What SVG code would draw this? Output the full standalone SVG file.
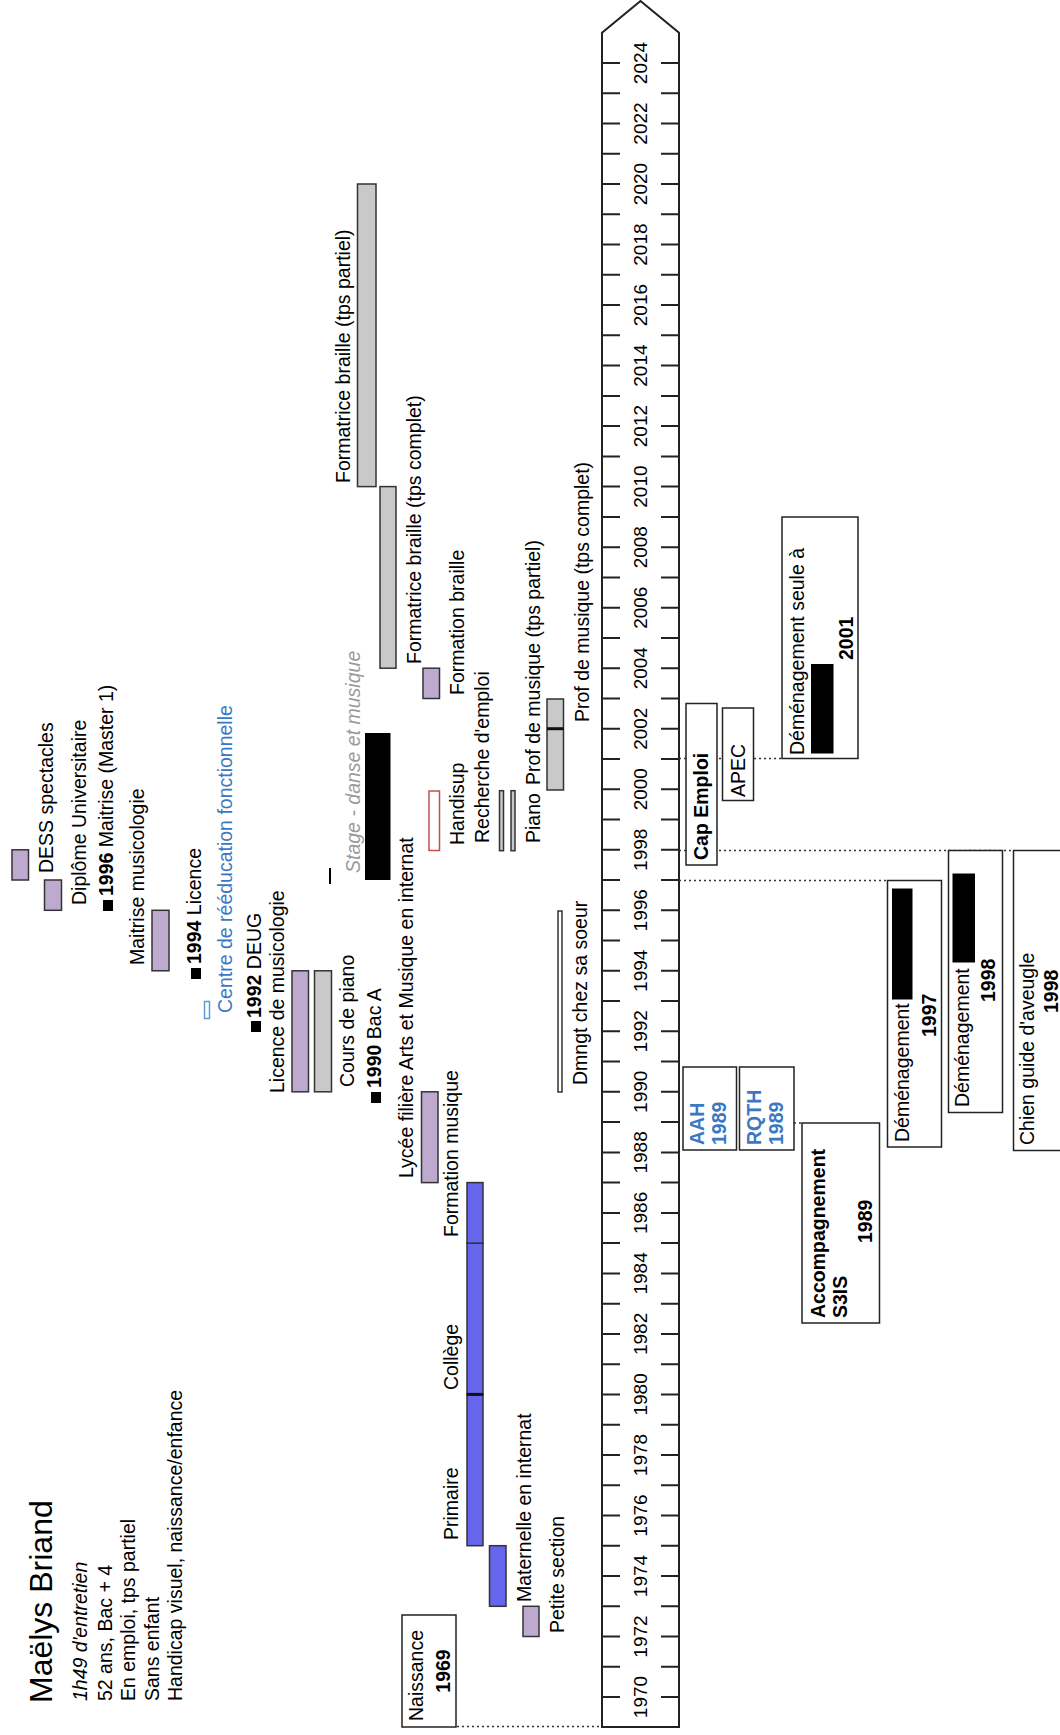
<svg xmlns="http://www.w3.org/2000/svg" width="1060" height="1735" viewBox="0 0 1060 1735">
<style>
text{font-family:"Liberation Sans",Arial,sans-serif;font-size:19.5px;fill:#000}
.b{font-weight:bold}
.i{font-style:italic}
.blue{fill:#3b78c4}
.yr{font-size:19px;text-anchor:middle}
.mid{text-anchor:middle}
.box{fill:#fff;stroke:#222;stroke-width:1.5}
.pu{fill:#bfaacf;stroke:#333;stroke-width:1.5}
.gr{fill:#c9c9c9;stroke:#333;stroke-width:1.5}
.bl{fill:#6565ee;stroke:#333;stroke-width:1.5}
.blk{fill:#000}
.dot{stroke:#333;stroke-width:1.5;stroke-dasharray:2 3;fill:none}
.div{stroke:#111;stroke-width:3}
</style>
<rect width="1060" height="1735" fill="#fff"/>
<g id="header">
<text transform="translate(52,1703) rotate(-90)" style="font-size:32px">Maëlys Briand</text>
<text class="i" transform="translate(87,1701) rotate(-90)">1h49 d'entretien</text>
<text transform="translate(112,1701) rotate(-90)">52 ans, Bac + 4</text>
<text transform="translate(135,1701) rotate(-90)">En emploi, tps partiel</text>
<text transform="translate(159,1701) rotate(-90)">Sans enfant</text>
<text transform="translate(182,1701) rotate(-90)">Handicap visuel, naissance/enfance</text>
</g>
<g id="axis">
<path d="M602,1727 V32.7 L640.5,1 L679,32.7 V1727 Z" fill="#fff" stroke="#222" stroke-width="2"/>
<path stroke="#222" stroke-width="2" d="M602,1697h18M661,1697h18M602,1666.8h18M661,1666.8h18M602,1636.5h18M661,1636.5h18M602,1606.3h18M661,1606.3h18M602,1576h18M661,1576h18M602,1545.7h18M661,1545.7h18M602,1515.5h18M661,1515.5h18M602,1485.2h18M661,1485.2h18M602,1455h18M661,1455h18M602,1424.7h18M661,1424.7h18M602,1394.4h18M661,1394.4h18M602,1364.2h18M661,1364.2h18M602,1333.9h18M661,1333.9h18M602,1303.7h18M661,1303.7h18M602,1273.4h18M661,1273.4h18M602,1243.1h18M661,1243.1h18M602,1212.9h18M661,1212.9h18M602,1182.6h18M661,1182.6h18M602,1152.4h18M661,1152.4h18M602,1122.1h18M661,1122.1h18M602,1091.8h18M661,1091.8h18M602,1061.6h18M661,1061.6h18M602,1031.3h18M661,1031.3h18M602,1001.1h18M661,1001.1h18M602,970.8h18M661,970.8h18M602,940.5h18M661,940.5h18M602,910.3h18M661,910.3h18M602,880h18M661,880h18M602,849.8h18M661,849.8h18M602,819.5h18M661,819.5h18M602,789.2h18M661,789.2h18M602,759h18M661,759h18M602,728.7h18M661,728.7h18M602,698.5h18M661,698.5h18M602,668.2h18M661,668.2h18M602,637.9h18M661,637.9h18M602,607.7h18M661,607.7h18M602,577.4h18M661,577.4h18M602,547.2h18M661,547.2h18M602,516.9h18M661,516.9h18M602,486.6h18M661,486.6h18M602,456.4h18M661,456.4h18M602,426.1h18M661,426.1h18M602,395.9h18M661,395.9h18M602,365.6h18M661,365.6h18M602,335.3h18M661,335.3h18M602,305.1h18M661,305.1h18M602,274.8h18M661,274.8h18M602,244.6h18M661,244.6h18M602,214.3h18M661,214.3h18M602,184h18M661,184h18M602,153.8h18M661,153.8h18M602,123.5h18M661,123.5h18M602,93.3h18M661,93.3h18M602,63h18M661,63h18"/>
<text class="yr" transform="translate(647,1697) rotate(-90)">1970</text>
<text class="yr" transform="translate(647,1636.5) rotate(-90)">1972</text>
<text class="yr" transform="translate(647,1576) rotate(-90)">1974</text>
<text class="yr" transform="translate(647,1515.5) rotate(-90)">1976</text>
<text class="yr" transform="translate(647,1455) rotate(-90)">1978</text>
<text class="yr" transform="translate(647,1394.4) rotate(-90)">1980</text>
<text class="yr" transform="translate(647,1333.9) rotate(-90)">1982</text>
<text class="yr" transform="translate(647,1273.4) rotate(-90)">1984</text>
<text class="yr" transform="translate(647,1212.9) rotate(-90)">1986</text>
<text class="yr" transform="translate(647,1152.4) rotate(-90)">1988</text>
<text class="yr" transform="translate(647,1091.8) rotate(-90)">1990</text>
<text class="yr" transform="translate(647,1031.3) rotate(-90)">1992</text>
<text class="yr" transform="translate(647,970.8) rotate(-90)">1994</text>
<text class="yr" transform="translate(647,910.3) rotate(-90)">1996</text>
<text class="yr" transform="translate(647,849.8) rotate(-90)">1998</text>
<text class="yr" transform="translate(647,789.2) rotate(-90)">2000</text>
<text class="yr" transform="translate(647,728.7) rotate(-90)">2002</text>
<text class="yr" transform="translate(647,668.2) rotate(-90)">2004</text>
<text class="yr" transform="translate(647,607.7) rotate(-90)">2006</text>
<text class="yr" transform="translate(647,547.2) rotate(-90)">2008</text>
<text class="yr" transform="translate(647,486.6) rotate(-90)">2010</text>
<text class="yr" transform="translate(647,426.1) rotate(-90)">2012</text>
<text class="yr" transform="translate(647,365.6) rotate(-90)">2014</text>
<text class="yr" transform="translate(647,305.1) rotate(-90)">2016</text>
<text class="yr" transform="translate(647,244.6) rotate(-90)">2018</text>
<text class="yr" transform="translate(647,184) rotate(-90)">2020</text>
<text class="yr" transform="translate(647,123.5) rotate(-90)">2022</text>
<text class="yr" transform="translate(647,63) rotate(-90)">2024</text>
</g>
<g id="connectors">
<line class="dot" x1="457" y1="1726.5" x2="602" y2="1726.5"/>
<line class="dot" x1="679" y1="758.5" x2="782" y2="758.5"/>
<line class="dot" x1="679" y1="850.5" x2="1013" y2="850.5"/>
<line class="dot" x1="679" y1="880.5" x2="887" y2="880.5"/>
<line class="dot" x1="794" y1="1123" x2="802" y2="1123"/>
</g>
<g id="naissance">
<rect class="box" x="402" y="1615" width="54" height="112"/>
<text transform="translate(423,1721) rotate(-90)">Naissance</text>
<text class="b mid" transform="translate(450,1671) rotate(-90)">1969</text>
</g>
<g id="petite-section">
<rect class="pu" x="523" y="1606.3" width="16" height="30.2"/>
<text transform="translate(564,1633) rotate(-90)">Petite section</text>
</g>
<g id="maternelle">
<rect class="bl" x="489.5" y="1545.7" width="16.5" height="60.6"/>
<text transform="translate(531,1602) rotate(-90)">Maternelle en internat</text>
</g>
<g id="primaire">
<rect class="bl" x="467" y="1394.4" width="16" height="151.3"/>
<text transform="translate(458,1540) rotate(-90)">Primaire</text>
</g>
<g id="college">
<rect class="bl" x="467" y="1243.1" width="16" height="151.3"/>
<line class="div" x1="467" y1="1394.4" x2="483" y2="1394.4"/>
<text transform="translate(458,1390) rotate(-90)">Collège</text>
</g>
<g id="formation-musique">
<rect class="bl" x="467" y="1182.6" width="16" height="60.5"/>
<text transform="translate(458,1237) rotate(-90)">Formation musique</text>
</g>
<g id="lycee">
<rect class="pu" x="421.5" y="1091.8" width="16.5" height="90.8"/>
<text transform="translate(413,1178) rotate(-90)">Lycée filière Arts et Musique en internat</text>
</g>
<g id="bac">
<rect class="blk" x="371" y="1092" width="10" height="11"/>
<text transform="translate(381,1088) rotate(-90)"><tspan class="b">1990</tspan> Bac A</text>
</g>
<g id="cours-piano">
<rect class="gr" x="314.5" y="970.8" width="17" height="121"/>
<text transform="translate(354,1087) rotate(-90)">Cours de piano</text>
</g>
<g id="licence-musicologie">
<rect class="pu" x="292" y="970.8" width="16.5" height="121"/>
<text transform="translate(284,1093) rotate(-90)">Licence de musicologie</text>
</g>
<g id="deug">
<rect class="blk" x="251" y="1021" width="10" height="11"/>
<text transform="translate(261,1018) rotate(-90)"><tspan class="b">1992</tspan> DEUG</text>
</g>
<g id="centre-reeducation">
<rect x="204.5" y="1001.5" width="5" height="17" fill="none" stroke="#5b9bd5" stroke-width="1.5"/>
<text class="blue" transform="translate(232,1013) rotate(-90)">Centre de rééducation fonctionnelle</text>
</g>
<g id="licence">
<rect class="blk" x="191" y="968" width="10" height="11"/>
<text transform="translate(201,964) rotate(-90)"><tspan class="b">1994</tspan> Licence</text>
</g>
<g id="maitrise-musicologie">
<rect class="pu" x="152" y="910.3" width="17" height="60.5"/>
<text transform="translate(144,965) rotate(-90)">Maitrise musicologie</text>
</g>
<g id="maitrise">
<rect class="blk" x="103" y="900" width="10" height="11"/>
<text transform="translate(113,896) rotate(-90)"><tspan class="b">1996</tspan> Maitrise (Master 1)</text>
</g>
<g id="du">
<rect class="pu" x="44.5" y="880" width="17" height="30.3"/>
<text transform="translate(86,905) rotate(-90)">Diplôme Universitaire</text>
</g>
<g id="dess">
<rect class="pu" x="12" y="849.8" width="16.5" height="30.2"/>
<text transform="translate(53,873) rotate(-90)">DESS spectacles</text>
</g>
<g id="stage">
<line x1="330" y1="868" x2="330" y2="884" stroke="#000" stroke-width="2"/>
<rect class="blk" x="365" y="733" width="25.5" height="147"/>
<text class="i" style="fill:#9a9a9a" transform="translate(360,873) rotate(-90)">Stage - danse et musique</text>
</g>
<g id="handisup">
<rect x="429" y="791" width="10.5" height="59.5" fill="none" stroke="#c0504d" stroke-width="1.5"/>
<text transform="translate(464,845) rotate(-90)">Handisup</text>
</g>
<g id="recherche-emploi">
<rect class="gr" x="499.5" y="790.7" width="4" height="60"/>
<text transform="translate(489,843) rotate(-90)">Recherche d'emploi</text>
</g>
<g id="piano">
<rect class="gr" x="511" y="790.7" width="4" height="60"/>
<text transform="translate(540,843) rotate(-90)">Piano</text>
</g>
<g id="prof-partiel">
<rect class="gr" x="547" y="699" width="16.5" height="91"/>
<line class="div" x1="547" y1="728.7" x2="563.5" y2="728.7"/>
<text transform="translate(540,785) rotate(-90)">Prof de musique (tps partiel)</text>
</g>
<g id="prof-complet">
<text transform="translate(589,722) rotate(-90)">Prof de musique (tps complet)</text>
</g>
<g id="dmngt-soeur">
<rect x="558" y="911" width="4" height="181" fill="#fff" stroke="#333" stroke-width="1.5"/>
<text transform="translate(587,1085) rotate(-90)">Dmngt chez sa soeur</text>
</g>
<g id="formation-braille">
<rect class="pu" x="423" y="668.2" width="16.5" height="30.3"/>
<text transform="translate(464,695) rotate(-90)">Formation braille</text>
</g>
<g id="formatrice-complet">
<rect class="gr" x="380" y="486.6" width="16" height="181.6"/>
<text transform="translate(421,664) rotate(-90)">Formatrice braille (tps complet)</text>
</g>
<g id="formatrice-partiel">
<rect class="gr" x="357.5" y="184" width="18.5" height="302.6"/>
<text transform="translate(350,483) rotate(-90)">Formatrice braille (tps partiel)</text>
</g>
<g id="cap-emploi">
<rect class="box" x="686" y="703.5" width="31" height="161.5"/>
<text class="b" transform="translate(708,860) rotate(-90)">Cap Emploi</text>
</g>
<g id="apec">
<rect class="box" x="722.5" y="708" width="31" height="92.5"/>
<text transform="translate(745,797) rotate(-90)">APEC</text>
</g>
<g id="demenagement-2001">
<rect class="box" x="782" y="517" width="76" height="241.5"/>
<rect class="blk" x="811" y="664" width="22.5" height="89.5"/>
<text transform="translate(804,755) rotate(-90)">Déménagement seule à</text>
<text class="b" transform="translate(853,660) rotate(-90)">2001</text>
</g>
<g id="aah">
<rect class="box" x="683" y="1067" width="53.5" height="83"/>
<text class="b blue" transform="translate(704,1145) rotate(-90)">AAH</text>
<text class="b blue" transform="translate(726,1145) rotate(-90)">1989</text>
</g>
<g id="rqth">
<rect class="box" x="739.5" y="1067" width="54.5" height="83"/>
<text class="b blue" transform="translate(761,1145) rotate(-90)">RQTH</text>
<text class="b blue" transform="translate(783,1145) rotate(-90)">1989</text>
</g>
<g id="s3is">
<rect class="box" x="802" y="1123" width="77.5" height="200"/>
<text class="b" transform="translate(825,1318) rotate(-90)">Accompagnement</text>
<text class="b" transform="translate(847,1318) rotate(-90)">S3IS</text>
<text class="b" transform="translate(872,1243) rotate(-90)">1989</text>
</g>
<g id="demenagement-1997">
<rect class="box" x="887.5" y="880.5" width="54" height="266.5"/>
<rect class="blk" x="892" y="888.5" width="20.5" height="111"/>
<text transform="translate(909,1142) rotate(-90)">Déménagement</text>
<text class="b" transform="translate(936,1037) rotate(-90)">1997</text>
</g>
<g id="demenagement-1998">
<rect class="box" x="948.5" y="850.5" width="54" height="262"/>
<rect class="blk" x="952.5" y="873.5" width="22.5" height="89"/>
<text transform="translate(969,1107) rotate(-90)">Déménagement</text>
<text class="b" transform="translate(995,1002) rotate(-90)">1998</text>
</g>
<g id="chien-guide">
<rect class="box" x="1013.5" y="850.5" width="60" height="300"/>
<text transform="translate(1034,1145) rotate(-90)">Chien guide d'aveugle</text>
<text class="b" transform="translate(1058,1013) rotate(-90)">1998</text>
</g>
</svg>
